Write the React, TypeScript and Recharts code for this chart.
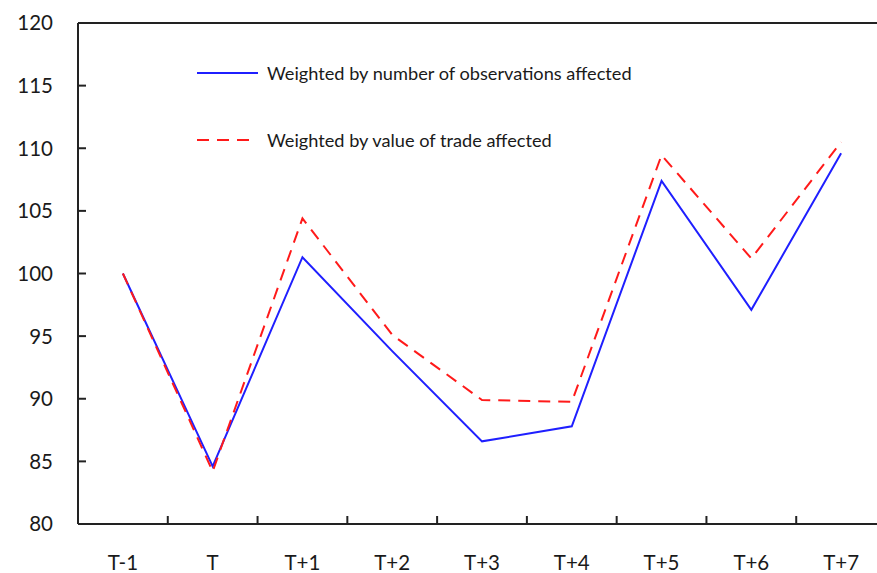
import React from 'react';
import { LineChart, Line, XAxis, YAxis, Legend, ReferenceLine } from 'recharts';

// category labels along the x axis
const periods = ['T-1', 'T', 'T+1', 'T+2', 'T+3', 'T+4', 'T+5', 'T+6', 'T+7'];

// index values (T-1 = 100)
const byObservations = [100, 84.6, 101.3, 93.8, 86.6, 87.8, 107.4, 97.1, 109.6];
const byTradeValue = [100, 84.2, 104.4, 95.1, 89.9, 89.75, 109.45, 101.2, 110.5];

const yTicks = [80, 85, 90, 95, 100, 105, 110, 115, 120];

const seriesNames = {
  obs: 'Weighted by number of observations affected',
  trade: 'Weighted by value of trade affected',
};

const FONT = 'Lato, "Open Sans", sans-serif';
const AXIS = '#222';
const BLUE = '#1f1fff';
const RED = '#ff1a1a';
const DASH = '12 8';

const CHART_W = 900;
const CHART_H = 573;
const MARGIN = { top: 23, right: 14, bottom: 0, left: 0 };
const Y_W = 78;
const X_H = 49;
const BAND = (CHART_W - MARGIN.left - MARGIN.right - Y_W) / periods.length;

const data = periods.map((p, i) => ({
  period: p,
  obs: byObservations[i],
  trade: byTradeValue[i],
}));

// y ticks: label on the left, short tick pointing into the plot
const YTick = (props: any) => {
  const { x, y, payload } = props;
  const v = payload.value;
  return (
    <g>
      {v !== 80 && v !== 120 && (
        <line x1={x} y1={y} x2={x + 8} y2={y} stroke={AXIS} strokeWidth={2} />
      )}
      <text x={x - 25} y={y} dy="0.36em" textAnchor="end" fontFamily={FONT} fontSize={20.5} fill="#1a1a1a">
        {v}
      </text>
    </g>
  );
};

// x ticks: label under the band centre, tick mark at the band edge pointing up
const XTick = (props: any) => {
  const { x, y, payload, index } = props;
  return (
    <g>
      {index > 0 && (
        <line x1={x - BAND / 2} y1={y} x2={x - BAND / 2} y2={y - 8} stroke={AXIS} strokeWidth={2} />
      )}
      <text x={x} y={y + 46} textAnchor="middle" fontFamily={FONT} fontSize={20.5} fill="#1a1a1a">
        {payload.value}
      </text>
    </g>
  );
};

const LegendBox = ({ payload }: any) => (
  <div style={{ fontFamily: FONT, fontSize: 18.2, color: '#1a1a1a', lineHeight: '20px' }}>
    {(payload || []).map((item: any, i: number) => {
      const dashed = item.dataKey === 'trade';
      return (
        <div
          key={item.value}
          style={{ display: 'flex', alignItems: 'center', height: 20, marginBottom: i === 0 ? 47 : 0 }}
        >
          <svg width={62} height={6} style={{ display: 'block' }}>
            <line
              x1={0}
              y1={3}
              x2={dashed ? 54 : 61}
              y2={3}
              stroke={item.color}
              strokeWidth={2}
              strokeDasharray={dashed ? DASH : undefined}
            />
          </svg>
          <span style={{ marginLeft: 8, whiteSpace: 'nowrap' }}>{item.value}</span>
        </div>
      );
    })}
  </div>
);

export default function App() {
  return (
    <div
      style={{
        position: 'fixed',
        left: 0,
        top: 0,
        width: 877,
        height: 573,
        overflow: 'hidden',
        background: '#fff',
      }}
    >
      <LineChart width={CHART_W} height={CHART_H} data={data} margin={MARGIN}>
        <XAxis
          dataKey="period"
          scale="band"
          height={X_H}
          axisLine={{ stroke: AXIS, strokeWidth: 2 }}
          tickLine={false}
          tickSize={0}
          tickMargin={0}
          interval={0}
          tick={<XTick />}
        />
        <YAxis
          type="number"
          domain={[80, 120]}
          ticks={yTicks}
          interval={0}
          width={Y_W}
          axisLine={{ stroke: AXIS, strokeWidth: 2 }}
          tickLine={false}
          tickSize={0}
          tickMargin={0}
          tick={<YTick />}
        />
        <ReferenceLine y={120} stroke={AXIS} strokeWidth={2} />
        <Legend
          layout="vertical"
          align="center"
          verticalAlign="middle"
          wrapperStyle={{ left: 197, top: 63, width: 'auto' }}
          content={<LegendBox />}
        />
        <Line
          type="linear"
          dataKey="obs"
          name={seriesNames.obs}
          stroke={BLUE}
          strokeWidth={2}
          dot={false}
          activeDot={false}
          isAnimationActive={false}
        />
        <Line
          type="linear"
          dataKey="trade"
          name={seriesNames.trade}
          stroke={RED}
          strokeWidth={2}
          strokeDasharray={DASH}
          dot={false}
          activeDot={false}
          isAnimationActive={false}
        />
      </LineChart>
    </div>
  );
}
